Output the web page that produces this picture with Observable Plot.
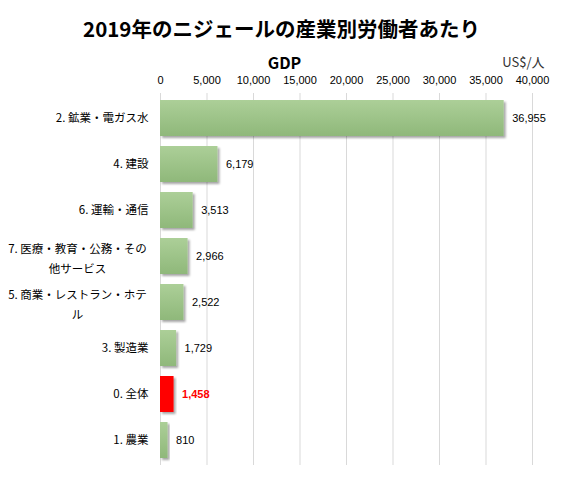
<!DOCTYPE html>
<html>
<head>
<meta charset="utf-8">
<script src="https://cdn.jsdelivr.net/npm/d3@7"></script>
<script src="https://cdn.jsdelivr.net/npm/@observablehq/plot@0.6"></script>
<style>
  body { margin: 0; background: #fff; }
  #title { width: 563px; height: 44px; box-sizing: border-box; padding-top: 16px; line-height: 24px;
           text-align: center; font-family: "Noto Sans CJK JP", sans-serif; font-weight: bold; font-size: 20.5px; color: #000; }
</style>
</head>
<body>
<div id="title">2019年のニジェールの産業別労働者あたり</div>
<div id="chart"></div>
<script>
const categories = ["2. 鉱業・電ガス水", "4. 建設", "6. 運輸・通信", "7. 医療・教育・公務・その他サービス", "5. 商業・レストラン・ホテル", "3. 製造業", "0. 全体", "1. 農業"];
const tickLabels = ["2. 鉱業・電ガス水", "4. 建設", "6. 運輸・通信", "7. 医療・教育・公務・その\n他サービス", "5. 商業・レストラン・ホテ\nル", "3. 製造業", "0. 全体", "1. 農業"];
const values = [36955, 6179, 3513, 2966, 2522, 1729, 1458, 810];
const highlight = "0. 全体";
const xTicks = [0, 5000, 10000, 15000, 20000, 25000, 30000, 35000, 40000];
const xTitle = "GDP";
const unitLabel = "US$/人";

const data = categories.map((c, i) => ({cat: c, label: tickLabels[i], value: values[i]}));
const normal = data.filter(d => d.cat !== highlight);
const hi = data.filter(d => d.cat === highlight);
const single = data.filter(d => !d.label.includes("\n"));
const wrapped = data.filter(d => d.label.includes("\n"));

const numFont = "'Liberation Sans', 'Noto Sans CJK JP', sans-serif";
const jpFont = "'Noto Sans CJK JP', sans-serif";
const fmt = d3.format(",");

const chart = Plot.plot({
  width: 563,
  height: 436,
  marginTop: 49,
  marginBottom: 15,
  marginLeft: 160,
  marginRight: 31,
  style: {fontFamily: numFont, fontSize: "11px", color: "#000", background: "#fff"},
  x: {domain: [0, 40000], axis: "top", ticks: xTicks, tickFormat: fmt, tickSize: 0, tickPadding: 10, label: null},
  y: {domain: categories, axis: null, paddingInner: 0.22, paddingOuter: 0.13},
  marks: [
    Plot.ruleX(xTicks, {stroke: "#d9d9d9", strokeWidth: 1}),
    Plot.barX(normal, {y: "cat", x: "value", fill: "url(#gbar)"}),
    Plot.barX(hi, {y: "cat", x: "value", fill: "#ff0000"}),
    Plot.text(normal, {y: "cat", x: "value", text: d => fmt(d.value), dx: 8, textAnchor: "start", fill: "#000", fontSize: 11}),
    Plot.text(hi, {y: "cat", x: "value", text: d => fmt(d.value), dx: 8, textAnchor: "start", fill: "#ff0000", fontWeight: "bold", fontSize: 11}),
    Plot.text(single, {y: "cat", x: () => 0, text: "label", dx: -12, textAnchor: "end", fontFamily: jpFont, fontSize: 11.5, fill: "#000"}),
    Plot.text(wrapped, {y: "cat", x: () => 0, text: "label", dx: -83, textAnchor: "middle", lineHeight: 1.75, fontFamily: jpFont, fontSize: 11.5, fill: "#000"}),
    Plot.text([xTitle], {frameAnchor: "top", text: d => d, dx: -62, dy: -36, fontFamily: jpFont, fontWeight: "bold", fontSize: 16, fill: "#000"}),
    Plot.text([unitLabel], {frameAnchor: "top-right", text: d => d, dx: 12, dy: -36, textAnchor: "end", fontFamily: jpFont, fontSize: 13, fill: "#333"})
  ]
});

const svg = d3.select(chart);
const defs = svg.insert("defs", ":first-child");
const g = defs.append("linearGradient").attr("id", "gbar").attr("x1", 0).attr("y1", 0).attr("x2", 0).attr("y2", 1);
g.append("stop").attr("offset", "0%").attr("stop-color", "#accf98");
g.append("stop").attr("offset", "100%").attr("stop-color", "#8fb87a");
const f = defs.append("filter").attr("id", "shadow").attr("x", "-10%").attr("y", "-20%").attr("width", "130%").attr("height", "150%");
f.append("feDropShadow").attr("dx", 2).attr("dy", 2).attr("stdDeviation", 1.3).attr("flood-color", "#000").attr("flood-opacity", 0.35);
svg.selectAll("g[aria-label='bar'] rect").attr("filter", "url(#shadow)");

document.getElementById("chart").appendChild(chart);
</script>
</body>
</html>
